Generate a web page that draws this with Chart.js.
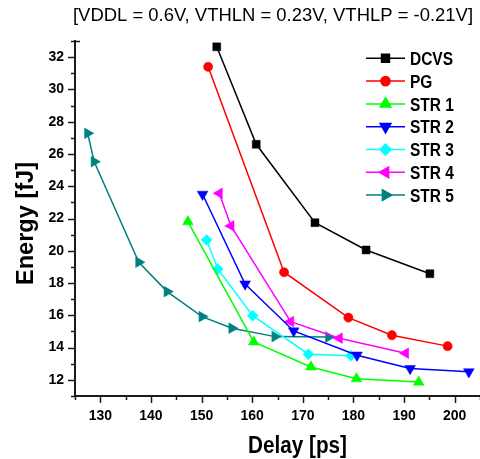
<!DOCTYPE html>
<html>
<head>
<meta charset="utf-8">
<script src="https://cdn.jsdelivr.net/npm/chart.js@4.4.1/dist/chart.umd.min.js"></script>
<style>
  html, body { margin: 0; padding: 0; background: #fff; }
  #wrap { width: 480px; height: 459px; position: relative; }
</style>
</head>
<body>
<div id="wrap"><canvas id="energyChart"></canvas></div>
<script>
const titleText = "[VDDL = 0.6V, VTHLN = 0.23V, VTHLP = -0.21V]";
const xTitle = "Delay [ps]";
const yTitle = "Energy [fJ]";

const xTicks = [130, 140, 150, 160, 170, 180, 190, 200];
const yTicks = [12, 14, 16, 18, 20, 22, 24, 26, 28, 30, 32];

const seriesNames = ["DCVS", "PG", "STR 1", "STR 2", "STR 3", "STR 4", "STR 5"];

const dcvsDelay  = [153.0, 160.8, 172.4, 182.5, 195.1];
const dcvsEnergy = [32.64, 26.6, 21.74, 20.05, 18.58];

const pgDelay  = [151.3, 166.3, 179.0, 187.6, 198.6];
const pgEnergy = [31.4, 18.67, 15.86, 14.77, 14.09];

const str1Delay  = [147.3, 160.3, 171.6, 180.6, 192.9];
const str1Energy = [21.8, 14.35, 12.8, 12.07, 11.86];

const str2Delay  = [150.2, 158.6, 168.2, 180.7, 191.2, 202.8];
const str2Energy = [23.5, 17.94, 15.03, 13.53, 12.7, 12.5];

const str3Delay  = [151.0, 153.2, 160.1, 171.1, 179.5];
const str3Energy = [20.67, 18.87, 15.98, 13.59, 13.5];

const str4Delay  = [153.5, 155.8, 167.6, 177.2, 190.3];
const str4Energy = [23.56, 21.54, 15.61, 14.58, 13.65];

const str5Delay  = [127.5, 128.8, 137.6, 143.2, 150.1, 156.0, 164.5, 175.1];
const str5Energy = [27.28, 25.52, 19.29, 17.47, 15.92, 15.2, 14.68, 14.65];

const colors = ["#000000", "#ff0000", "#00ff00", "#0000ff", "#00ffff", "#ff00ff", "#008080"];
const styles = ["rect", "circle", "triangle", "triangle", "rectRot", "triangle", "triangle"];
const rotations = [0, 0, 0, 180, 0, 270, 90];
const radii = [5.6, 4.6, 6.2, 6.2, 5.5, 6.2, 6.2];

const delays = [dcvsDelay, pgDelay, str1Delay, str2Delay, str3Delay, str4Delay, str5Delay];
const energies = [dcvsEnergy, pgEnergy, str1Energy, str2Energy, str3Energy, str4Energy, str5Energy];

const datasets = seriesNames.map((name, i) => ({
  label: name,
  data: delays[i].map((d, k) => ({ x: d, y: energies[i][k] })),
  borderColor: colors[i],
  backgroundColor: colors[i],
  borderWidth: 1.5,
  pointStyle: styles[i],
  rotation: rotations[i],
  pointRadius: radii[i],
  pointBorderWidth: 0.5,
  fill: false,
  tension: 0,
  clip: false
}));

// draws text squeezed/stretched to a target width
function fitText(ctx, str, x, y, width, font) {
  ctx.font = font;
  const w = ctx.measureText(str).width;
  ctx.save();
  ctx.translate(x, y);
  ctx.scale(width / w, 1);
  ctx.fillText(str, 0, 0);
  ctx.restore();
}

const decorPlugin = {
  id: "decor",
  afterDraw(chart) {
    const ctx = chart.ctx;
    const xs = chart.scales.x, ys = chart.scales.y;
    const a = chart.chartArea;
    ctx.save();
    ctx.strokeStyle = "#1a1a1a";
    ctx.lineWidth = 1.5;
    ctx.beginPath();
    for (let v = 11; v <= 33; v++) {
      const py = Math.round(ys.getPixelForValue(v)) + 0.5;
      const len = v % 2 === 0 ? 7 : 4;
      ctx.moveTo(a.left - len, py);
      ctx.lineTo(a.left, py);
    }
    for (let v = 125; v <= 205; v += 5) {
      const px = Math.round(xs.getPixelForValue(v)) + 0.5;
      const len = v % 10 === 0 ? 7 : 4;
      ctx.moveTo(px, a.bottom);
      ctx.lineTo(px, a.bottom + len);
    }
    // little stub at top of y axis
    ctx.moveTo(a.left, a.top + 0.5);
    ctx.lineTo(a.left + 5, a.top + 0.5);
    ctx.stroke();

    ctx.fillStyle = "#000";
    ctx.textBaseline = "alphabetic";
    ctx.textAlign = "left";
    fitText(ctx, titleText, 73, 21, 400, "18px 'Liberation Sans', Arial, sans-serif");
    fitText(ctx, xTitle, 248, 453, 99, "bold 23px 'Liberation Sans', Arial, sans-serif");

    ctx.save();
    ctx.translate(33, 285);
    ctx.rotate(-Math.PI / 2);
    fitText(ctx, yTitle, 0, 0, 123, "bold 24px 'Liberation Sans', Arial, sans-serif");
    ctx.restore();

    // legend
    const lx0 = 366, lx1 = 405, lmx = 385.5;
    chart.data.datasets.forEach((ds, i) => {
      const ly = 58.3 + i * 22.8;
      ctx.strokeStyle = ds.borderColor;
      ctx.lineWidth = 1.5;
      ctx.beginPath();
      ctx.moveTo(lx0, ly);
      ctx.lineTo(lx1, ly);
      ctx.stroke();
      ctx.fillStyle = ds.backgroundColor;
      Chart.helpers.drawPoint(ctx, {
        pointStyle: ds.pointStyle,
        rotation: ds.rotation,
        radius: ds.pointRadius,
        borderWidth: 0.5
      }, lmx, ly);
      ctx.fillStyle = "#000";
      ctx.font = "bold 18px 'Liberation Sans', Arial, sans-serif";
      const w = ctx.measureText(ds.label).width;
      fitText(ctx, ds.label, 410, ly + 6.6, w * 0.86, "bold 18px 'Liberation Sans', Arial, sans-serif");
    });
    ctx.restore();
  }
};

new Chart("energyChart", {
  type: "line",
  data: { datasets: datasets },
  options: {
    responsive: true,
    maintainAspectRatio: false,
    animation: false,
    layout: { padding: { top: 41, right: 0, left: 0, bottom: 0 }, autoPadding: false },
    plugins: { legend: { display: false }, title: { display: false }, tooltip: { enabled: false } },
    scales: {
      x: {
        type: "linear",
        min: 125,
        max: 205,
        afterBuildTicks: s => { s.ticks = xTicks.map(v => ({ value: v })); },
        afterFit: s => { s.height = 63; },
        grid: { drawOnChartArea: false, drawTicks: false },
        border: { display: true, color: "#1a1a1a", width: 2 },
        ticks: {
          padding: 12,
          color: "#000",
          maxRotation: 0,
          font: { family: "'Liberation Sans', Arial, sans-serif", size: 14, weight: "bold" }
        }
      },
      y: {
        type: "linear",
        min: 11,
        max: 33,
        afterBuildTicks: s => { s.ticks = yTicks.map(v => ({ value: v })); },
        afterFit: s => { s.width = 75; },
        grid: { drawOnChartArea: false, drawTicks: false },
        border: { display: true, color: "#1a1a1a", width: 2 },
        ticks: {
          padding: 11,
          color: "#000",
          font: { family: "'Liberation Sans', Arial, sans-serif", size: 14, weight: "bold" }
        }
      }
    }
  },
  plugins: [decorPlugin]
});
</script>
</body>
</html>
